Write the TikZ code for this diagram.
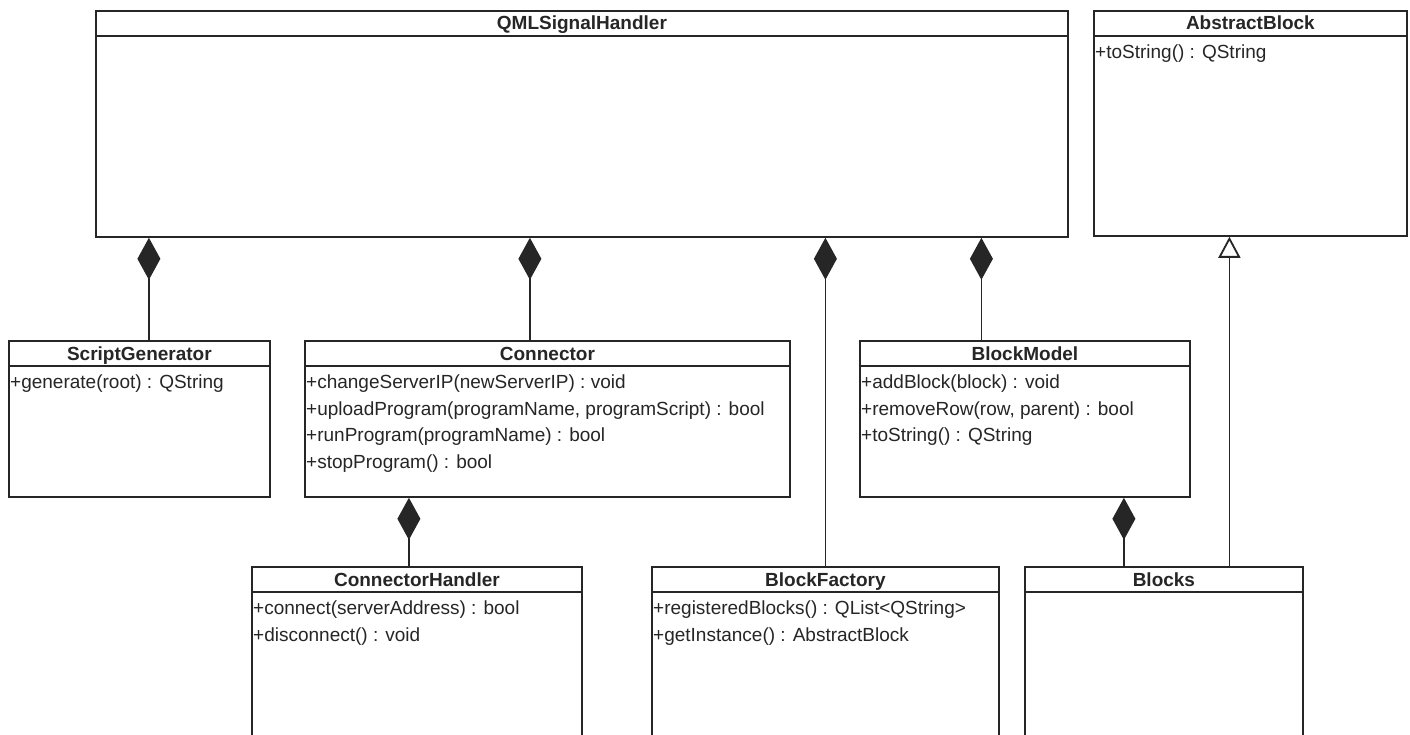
\documentclass[tikz,border=0pt]{standalone}
\usepackage{fontspec}
\setmainfont{Liberation Sans}
\usetikzlibrary{arrows.meta, positioning}
\definecolor{umlink}{RGB}{38,38,38}

\tikzset{
  classbox/.style={draw=umlink, line width=1.8pt, anchor=north west, inner sep=0pt},
  classname/.style={anchor=base, font=\fontsize{19}{22}\selectfont\bfseries, text=umlink, inner sep=0pt},
  member/.style={anchor=base west, font=\fontsize{19}{22}\selectfont, text=umlink, inner sep=0pt},
  sepline/.style={draw=umlink, line width=1.8pt},
  compose/.style={draw=umlink, line width=1.8pt, -{Diamond[length=42pt, width=23pt]}},
  inherit/.style={draw=umlink, line width=1.8pt, -{Triangle[open, length=21pt, width=22pt]}},
}

\begin{document}
\begin{tikzpicture}[x=1pt, y=-1pt]
  \clip (0,0) rectangle (1410,735);
  \fill[white] (0,0) rectangle (1410,735);

  % class boxes
  \node[classbox, minimum width=972pt, minimum height=226pt] (qml) at (95,10) {};
  \node[classbox, minimum width=313pt, minimum height=225pt] (ab) at (1093,10) {};
  \node[classbox, minimum width=261pt, minimum height=156pt] (sg) at (8,340) {};
  \node[classbox, minimum width=485pt, minimum height=156pt] (conn) at (304,340) {};
  \node[classbox, minimum width=330pt, minimum height=156pt] (bm) at (859,340) {};
  \node[classbox, minimum width=330pt, minimum height=200pt] (ch) at (251,566) {};
  \node[classbox, minimum width=347pt, minimum height=200pt] (bf) at (651,566) {};
  \node[classbox, minimum width=278pt, minimum height=200pt] (blk) at (1024,566) {};

  % names and separators
  \foreach \c/\t in {qml/QMLSignalHandler, ab/AbstractBlock, sg/ScriptGenerator,
      conn/Connector, bm/BlockModel, ch/ConnectorHandler, bf/BlockFactory, blk/Blocks} {
    \node[classname] at ([yshift=-20pt]\c.north) {\t};
    \draw[sepline] ([yshift=-26pt]\c.north west) -- ([yshift=-26pt]\c.north east);
  }

  % members
  \node[member] at ([xshift=2pt, yshift=-49pt]ab.north west) {+toString() : QString};
  \node[member] at ([xshift=2pt, yshift=-48.5pt]sg.north west) {+generate(root) : QString};
  \foreach \m [count=\i] in {{+changeServerIP(newServerIP) : void},
      {+uploadProgram(programName, programScript) : bool},
      {+runProgram(programName) : bool}, {+stopProgram() : bool}}
    \node[member] at ([xshift=2pt, yshift={-22pt-26.5pt*\i}]conn.north west) {\m};
  \foreach \m [count=\i] in {{+addBlock(block) : void},
      {+removeRow(row, parent) : bool}, {+toString() : QString}}
    \node[member] at ([xshift=2pt, yshift={-22pt-26.5pt*\i}]bm.north west) {\m};
  \foreach \m [count=\i] in {{+connect(serverAddress) : bool}, {+disconnect() : void}}
    \node[member] at ([xshift=2pt, yshift={-22pt-26.5pt*\i}]ch.north west) {\m};
  \foreach \m [count=\i] in {{+registeredBlocks() : QList<QString>},
      {+getInstance() : AbstractBlock}}
    \node[member] at ([xshift=2pt, yshift={-22pt-26.5pt*\i}]bf.north west) {\m};

  % relations
  \coordinate (sgtop) at ([xshift=9.5pt]sg.north);
  \coordinate (conntop) at ([xshift=-17.5pt]conn.north);
  \coordinate (bftop) at (bf.north);
  \coordinate (bmtop) at ([xshift=-43.5pt]bm.north);
  \coordinate (chtop) at ([xshift=-8pt]ch.north);
  \coordinate (blkpart) at ([xshift=-40pt]blk.north);
  \coordinate (blkbase) at ([xshift=65.5pt]blk.north);
  \draw[compose] (sgtop) -- (sgtop |- qml.south);
  \draw[compose] (conntop) -- (conntop |- qml.south);
  \draw[compose] (bftop) -- (bftop |- qml.south);
  \draw[compose] (bmtop) -- (bmtop |- qml.south);
  \draw[compose] (chtop) -- (chtop |- conn.south);
  \draw[compose] (blkpart) -- (blkpart |- bm.south);
  \draw[inherit] (blkbase) -- (blkbase |- ab.south);
\end{tikzpicture}
\end{document}
